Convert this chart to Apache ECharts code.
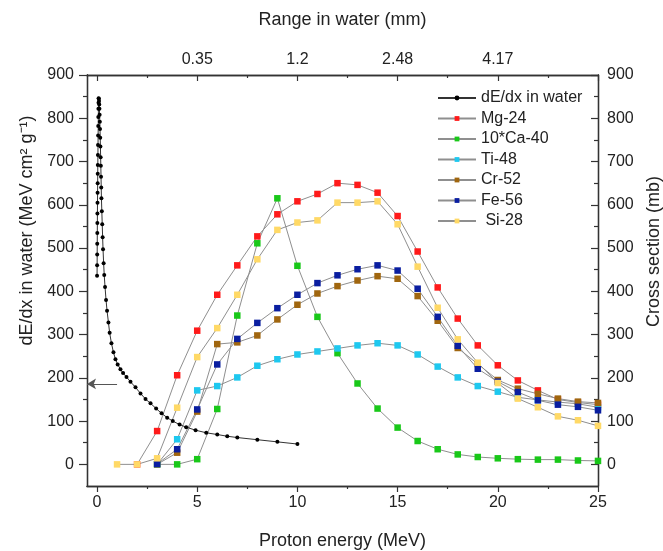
<!DOCTYPE html>
<html>
<head>
<meta charset="utf-8">
<script src="https://cdn.jsdelivr.net/npm/echarts@6/dist/echarts.min.js"></script>
<style>html,body{margin:0;padding:0;background:#fff}#chart{width:663px;height:551px}</style>
</head>
<body>
<div id="chart"></div>
<script>
// ---------- data ----------
const energies = [1,2,3,4,5,6,7,8,9,10,11,12,13,14,15,16,17,18,19,20,21,22,23,24,25];
const mg24  = [null,0,77,206,309,392,460,527,578,608,625,650,646,628,574,492,409,337,275,229,194,171,150,143,138];
const ca40x10 = [null,null,0,0,12,128,344,511,615,459,341,257,187,129,85,54,35,23,17,14,12,11,11,9,8];
const ti48  = [null,null,0,58,171,181,201,228,243,254,261,268,275,280,275,254,226,201,181,168,155,149,144,140,132];
const cr52  = [null,null,0,27,122,278,282,298,335,369,395,412,425,435,429,389,332,269,232,195,175,163,152,145,142];
const fe56  = [null,null,1,35,127,231,290,327,361,392,419,437,451,460,448,406,341,274,221,191,167,148,138,133,125];
const si28  = [0,0,14,131,248,315,392,474,542,559,564,605,605,608,555,457,362,289,235,188,152,132,111,102,89];

const waterEnergy = [0.002,0.005,0.008,0.011,0.014,0.017,0.02,0.024,0.028,0.032,0.036,0.04,0.045,0.05,0.055,0.06,0.065,0.07,0.075,0.08,
  0.09,0.1,0.11,0.12,0.13,0.14,0.15,0.16,0.17,0.18,0.19,0.2,0.21,0.22,0.24,0.26,0.28,0.3,0.33,0.36,0.4,0.45,0.5,0.57,0.63,0.72,0.82,0.92,
  1.03,1.17,1.3,1.47,1.67,1.92,2.17,2.42,2.67,2.95,3.22,3.5,3.78,4.12,4.45,4.92,5.45,6.0,6.5,7.0,8.0,9.0,10.0];
const waterDEdx = [436,460,485,510,535,558,580,605,628,650,672,692,715,738,760,782,803,822,836,846,
  845,840,832,822,808,792,775,755,735,710,690,665,640,615,585,555,525,497,465,438,410,380,355,328,304,280,259,243,
  231,220,211,202,191,178,164,151,141,129,118,108,100,92,86,79,73,69,65,62,57,52,47];

const seriesNames = ['dE/dx in water','Mg-24','10*Ca-40','Ti-48','Cr-52','Fe-56',' Si-28'];
const seriesColors = ['#000000','#ff1a1a','#19c819','#1ec8ef','#a0660f','#0a1ea0','#ffd966'];

const xMajorTicks = [0,5,10,15,20,25];
const xMinorTicks = [2.5,7.5,12.5,17.5,22.5];
const yMajorTicks = [0,100,200,300,400,500,600,700,800,900];
const yMinorTicks = [50,150,250,350,450,550,650,750,850];
const rangeTickEnergies = [5,10,15,20];
const rangeLabels = ['0.35','1.2','2.48','4.17'];

const arrowFrom = [1.0, 186];
const arrowTo = [-0.5, 186];

// ---------- chart ----------
const FONT = 'Liberation Sans';
const TXT = '#222';
const AX = '#333';

function pairs(arr){ const out=[]; arr.forEach((v,i)=>{ if(v!==null) out.push([energies[i], v]); }); return out; }

function xAx(pos, ticks, len, inside, labels, extra){
  return Object.assign({
    type:'value', position:pos, min:-0.5, max:25,
    axisLine:{show:true, onZero:false, lineStyle:{color:AX, width:1.3}},
    axisTick:{show:true, inside:inside, length:len, customValues:ticks, lineStyle:{color:AX, width:1.2}},
    axisLabel:labels ? labels : {show:false},
    splitLine:{show:false}
  }, extra||{});
}
function yAx(pos, ticks, len, inside, labels, extra){
  return Object.assign({
    type:'value', position:pos, min:-50, max:900,
    axisLine:{show:true, onZero:false, lineStyle:{color:AX, width:1.3}},
    axisTick:{show:true, inside:inside, length:len, customValues:ticks, lineStyle:{color:AX, width:1.2}},
    axisLabel:labels ? labels : {show:false},
    splitLine:{show:false}
  }, extra||{});
}

const isoData = [mg24, ca40x10, ti48, cr52, fe56, si28];

const series = [{
  name: seriesNames[0], type:'line', xAxisIndex:0, yAxisIndex:0,
  data: waterEnergy.map((e,i)=>[e, waterDEdx[i]]),
  symbol:'circle', symbolSize:4, showSymbol:true,
  itemStyle:{color:seriesColors[0]},
  lineStyle:{color:'#333', width:1},
  markLine:{
    silent:true, symbol:['none','arrow'], symbolSize:[8,9],
    label:{show:false},
    lineStyle:{color:'#555', width:1, type:'solid'},
    data:[[{coord:arrowFrom},{coord:arrowTo}]]
  },
  z:3
}];
isoData.forEach((arr, k)=>{
  series.push({
    name: seriesNames[k+1], type:'line', xAxisIndex:0, yAxisIndex:0,
    data: pairs(arr),
    symbol:'rect', symbolSize:6.5, showSymbol:true,
    itemStyle:{color:seriesColors[k+1]},
    lineStyle:{color:'#8f8f8f', width:1},
    z:2
  });
});

const chart = echarts.init(document.getElementById('chart'), null, {renderer:'canvas'});
chart.setOption({
  animation:false,
  backgroundColor:'#fff',
  textStyle:{fontFamily:FONT},
  grid:{left:87, right:65, top:75, bottom:65, containLabel:false, outerBoundsMode:'none'},
  legend:{
    data: seriesNames, orient:'vertical', left:432, top:85,
    itemWidth:38, itemHeight:6, itemGap:4.5,
    textStyle:{fontFamily:FONT, fontSize:16, color:TXT},
    inactiveColor:'#ccc'
  },
  xAxis:[
    xAx('bottom', xMajorTicks, 6, false,
      {show:true, customValues:xMajorTicks, fontFamily:FONT, fontSize:16, color:TXT, margin:9},
      {name:'Proton energy (MeV)', nameLocation:'middle', nameGap:46,
       nameTextStyle:{fontFamily:FONT, fontSize:18, color:TXT}}),
    xAx('bottom', xMinorTicks, 3, false, null),
    xAx('top', xMajorTicks, 6, true,
      {show:true, customValues:rangeTickEnergies, fontFamily:FONT, fontSize:16, color:TXT, margin:7,
       formatter:(v)=>{ const i = rangeTickEnergies.indexOf(v); return i>=0 ? rangeLabels[i] : ''; }},
      {name:'Range in water (mm)', nameLocation:'middle', nameGap:46,
       nameTextStyle:{fontFamily:FONT, fontSize:18, color:TXT}}),
    xAx('top', xMinorTicks, 3, true, null)
  ],
  yAxis:[
    yAx('left', yMajorTicks, 8, false,
      {show:true, customValues:yMajorTicks, fontFamily:FONT, fontSize:16, color:TXT, margin:13},
      {name:'dE/dx in water (MeV cm\u00B2 g\u207B\u00B9)', nameLocation:'middle', nameGap:44, nameRotate:90,
       nameTextStyle:{fontFamily:FONT, fontSize:18, color:TXT, padding:[0,0,0,100]}}),
    yAx('left', yMinorTicks, 4, false, null),
    yAx('right', yMajorTicks, 7, true,
      {show:true, customValues:yMajorTicks, fontFamily:FONT, fontSize:16, color:TXT, margin:9},
      {name:'Cross section (mb)', nameLocation:'middle', nameGap:44, nameRotate:90,
       nameTextStyle:{fontFamily:FONT, fontSize:18, color:TXT, padding:[0,0,0,58]}}),
    yAx('right', yMinorTicks, 4, true, null)
  ],
  series: series
});
</script>
</body>
</html>
